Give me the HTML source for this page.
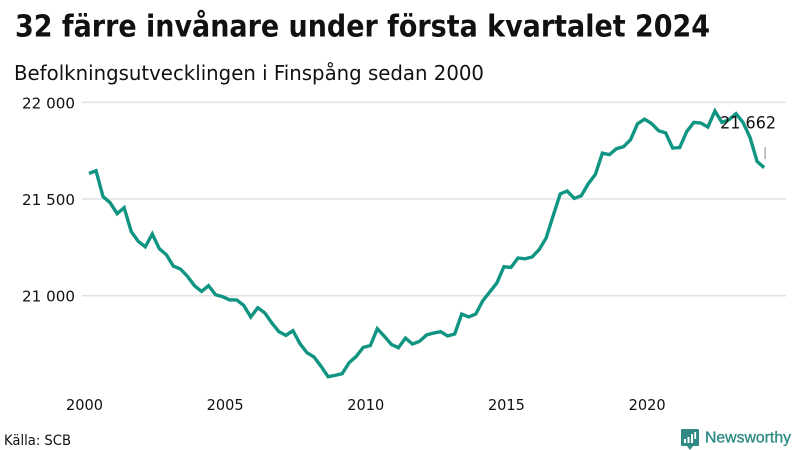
<!DOCTYPE html>
<html lang="sv">
<head>
<meta charset="utf-8">
<title>32 färre invånare under första kvartalet 2024</title>
<style>
html,body{margin:0;padding:0;background:#fff}
svg{display:block}
text{font-family:"DejaVu Sans","Liberation Sans",sans-serif;fill:#111}
</style>
</head>
<body>
<svg id="chart" xmlns="http://www.w3.org/2000/svg" width="800" height="450" viewBox="0 0 800 450">
  <rect width="800" height="450" fill="#fff"/>
  <text x="15" y="36.5" font-size="30" font-weight="700" textLength="695" lengthAdjust="spacingAndGlyphs">32 färre invånare under första kvartalet 2024</text>
  <text x="14" y="80" font-size="20" textLength="470" lengthAdjust="spacingAndGlyphs">Befolkningsutvecklingen i Finspång sedan 2000</text>
  <g id="grid"></g>
  <g id="yaxis"></g>
  <g id="xaxis"></g>
  <path id="line" fill="none" stroke="#109582" stroke-width="3.4" stroke-linejoin="miter" stroke-linecap="butt"/>
  <line id="callout-tick" stroke="#999" stroke-width="1.2"/>
  <text id="callout" font-size="16.5" text-anchor="end" textLength="56" lengthAdjust="spacingAndGlyphs"></text>
  <text x="4" y="445" font-size="14" textLength="67" lengthAdjust="spacingAndGlyphs">Källa: SCB</text>
  <g>
    <path d="M682 429H698Q699 429 699 430V445Q699 446 698 446H693L690 450L687 446H682Q681 446 681 445V430Q681 429 682 429Z" fill="#2f8a85"/>
    <rect x="684" y="439" width="2" height="4" fill="#fff"/>
    <rect x="687.500" y="437" width="2" height="6" fill="#fff"/>
    <rect x="691" y="434" width="2" height="9" fill="#fff"/>
    <rect x="694.300" y="432" width="1.800" height="7" fill="#fff"/>
    <text x="705" y="442.500" font-size="16" font-weight="400" textLength="86" lengthAdjust="spacingAndGlyphs" stroke="#2f8a85" stroke-width="0.35" style="font-family:'Liberation Sans',sans-serif;fill:#2f8a85">Newsworthy</text>
  </g>
</svg>
<script>
const yTicks = [22000, 21500, 21000];
const yTickLabels = ["22 000", "21 500", "21 000"];
const xTicks = [2000, 2005, 2010, 2015, 2020];
const startYear = 2000;
const periodsPerYear = 4;
const population = [
  21632,21646,21512,21481,21424,21455,21332,21281,21253,21319,
  21243,21212,21153,21138,21100,21052,21022,21052,21005,20995,
  20978,20978,20950,20890,20938,20911,20859,20814,20795,20819,
  20752,20705,20683,20635,20581,20588,20597,20654,20686,20733,
  20742,20829,20790,20748,20731,20781,20750,20764,20797,20807,
  20814,20792,20802,20905,20890,20905,20974,21020,21066,21150,
  21146,21195,21191,21200,21238,21298,21413,21526,21541,21503,
  21517,21579,21627,21737,21729,21760,21770,21806,21889,21913,
  21890,21853,21842,21763,21766,21849,21896,21893,21872,21955,
  21896,21910,21941,21896,21818,21694,21662
];
const lastValueLabel = "21 662";

const SVGNS = "http://www.w3.org/2000/svg";
function xScale(year) { return 89 + (year - 2000) * 28.13; }
function yScale(v) { return 102.3 + (22000 - v) * 0.1934; }
function yearOf(i) { return startYear + i / periodsPerYear; }

const grid = document.getElementById("grid");
const yaxis = document.getElementById("yaxis");
const xaxis = document.getElementById("xaxis");

yTicks.forEach(function (t, i) {
  const gl = document.createElementNS(SVGNS, "line");
  
  
  gl.setAttribute("x1", 82);
  gl.setAttribute("x2", 786);
  gl.setAttribute("y1", yScale(t));
  gl.setAttribute("y2", yScale(t));
  gl.setAttribute("stroke", "#e2e2e7");
  gl.setAttribute("stroke-width", 1.6);
  grid.appendChild(gl);

  const lb = document.createElementNS(SVGNS, "text");
  
  
  lb.setAttribute("x", 75);
  lb.setAttribute("y", yScale(t) + 6);
  lb.setAttribute("font-size", 15.5);
  lb.setAttribute("text-anchor", "end");
  lb.setAttribute("textLength", 53);
  lb.setAttribute("lengthAdjust", "spacingAndGlyphs");
  lb.textContent = yTickLabels[i];
  yaxis.appendChild(lb);
});

xTicks.forEach(function (t) {
  const lb = document.createElementNS(SVGNS, "text");
  
  
  lb.setAttribute("x", xScale(t) - 23);
  lb.setAttribute("y", 410);
  lb.setAttribute("font-size", 15.5);
  lb.setAttribute("textLength", 37);
  lb.setAttribute("lengthAdjust", "spacingAndGlyphs");
  lb.textContent = String(t);
  xaxis.appendChild(lb);
});

let d = "";
population.forEach(function (v, i) {
  d += (i ? "L" : "M") + xScale(yearOf(i)).toFixed(2) + " " + yScale(v).toFixed(2);
});
document.getElementById("line").setAttribute("d", d);

const lastX = xScale(yearOf(population.length - 1));
const lastY = yScale(population[population.length - 1]);
const tick = document.getElementById("callout-tick");
tick.setAttribute("x1", lastX + 1);
tick.setAttribute("x2", lastX + 1);
tick.setAttribute("y1", lastY - 20.5);
tick.setAttribute("y2", lastY - 8.5);
const callout = document.getElementById("callout");
callout.setAttribute("x", lastX + 12);
callout.setAttribute("y", lastY - 39);
callout.textContent = lastValueLabel;
</script>
</body>
</html>
